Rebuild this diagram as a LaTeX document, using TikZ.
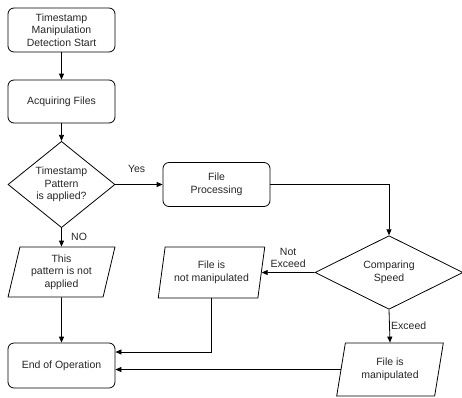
\documentclass[tikz,border=0pt]{standalone}
\usepackage{fontspec}
\setmainfont{Liberation Sans}
\usetikzlibrary{shapes.geometric,arrows.meta}
\begin{document}
\begin{tikzpicture}[x=1pt,y=-1pt,
  every node/.style={font=\fontsize{10.5}{12.5}\selectfont, align=center, text=black!85},
  rbox/.style={draw, rounded corners=6pt, minimum width=107pt, inner sep=0pt},
  dec/.style={draw, diamond, inner sep=0pt},
  io/.style={draw, trapezium, trapezium left angle=76, trapezium right angle=104, trapezium stretches=true, inner sep=0pt},
  conn/.style={draw, line width=0.8pt, -{Triangle[length=6pt,width=5pt]}},
  lbl/.style={font=\fontsize{10.5}{12.5}\selectfont}
]
\useasboundingbox (0,0) rectangle (462,397);
\begin{scope}[line width=0.8pt]
\node[rbox, minimum height=44pt] (start) at (61.5,30) {Timestamp\\Manipulation\\Detection Start};
\node[rbox, minimum height=43pt] (acq) at (61.5,101.5) {Acquiring Files};
\node[dec, minimum width=107pt, minimum height=72pt] (d1) at (61.5,184.5) {Timestamp\\Pattern\\is applied?};
\node[rbox, minimum height=44pt] (fp) at (216.5,184.5) {File\\Processing};
\node[io, minimum width=107pt, minimum height=50pt] (p1) at (61.5,272) {This\\pattern is not\\applied};
\node[rbox, minimum height=45pt] (end) at (61.5,365.5) {End of Operation};
\node[io, minimum width=107pt, minimum height=51pt] (p3) at (211.5,272.5) {File is\\not manipulated};
\node[dec, minimum width=148pt, minimum height=70pt] (d2) at (389,272.5) {Comparing\\Speed};
\node[io, minimum width=107pt, minimum height=53pt] (p2) at (390,369.5) {File is\\manipulated};
\end{scope}

\path[conn] (start) -- (acq);
\path[conn] (acq) -- (d1);
\path[conn] (d1.east) -- (fp.west) node[pos=0.45, above=8pt, lbl] {Yes};
\path[conn] (d1.south) -- (p1.north) node[midway, right=6pt, lbl] {NO};
\path[conn] (p1) -- (end);
\path[conn] (fp.east) -| (d2.north);
\path[conn] (d2.west) -- (p3.east) node[midway, above=1pt, lbl] {Not\\Exceed};
\path[conn] (d2.south) -- (p2.north) node[midway, right=-2pt, lbl] {Exceed};
\path[conn] (p3.south) |- ([yshift=13.5pt]end.east);
\path[conn] (p2.west) -- (p2.west -| end.east);
\end{tikzpicture}
\end{document}
